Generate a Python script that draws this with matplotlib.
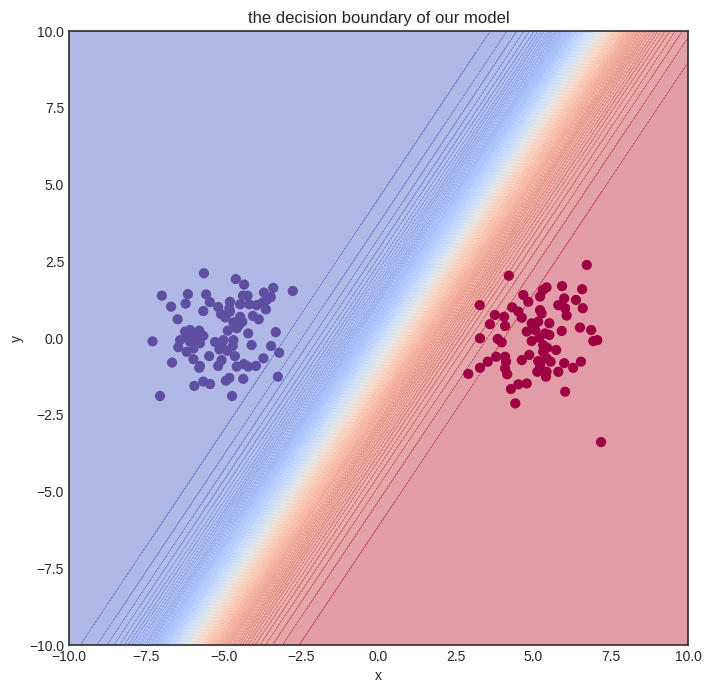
import numpy as np
import matplotlib
matplotlib.use("Agg")
import matplotlib.pyplot as plt

# left blob (class 1)
left_x = [-5.64, -4.61, -4.34, -7.00, -6.16, -5.57, -6.70, -6.23, -5.45, -3.40,
          -2.77, -3.70, -4.38, -4.23, -3.61, -3.48, -3.75, -4.80, -4.47, -4.18,
          -3.64, -5.18, -4.82, -5.66, -5.09, -4.95, -6.49, -4.47, -4.06, -3.87,
          -4.69, -4.40, -4.58, -4.87, -4.21, -3.32, -6.09, -5.79, -6.20, -5.93,
          -5.66, -7.30, -6.41, -6.09, -5.77, -5.28, -5.07, -4.69, -4.10, -3.47,
          -6.47, -6.20, -5.14, -4.89, -4.71, -3.21, -5.98, -5.47, -5.07, -4.64,
          -5.77, -6.67, -5.18, -4.58, -4.35, -4.21, -3.96, -3.72, -5.79, -4.82,
          -4.93, -4.37, -3.25, -5.66, -5.44, -5.95, -7.06, -4.73, -5.01, -4.80,
          -4.51, -5.98, -6.25, -3.94]
left_y = [2.11, 1.92, 1.74, 1.38, 1.43, 1.42, 1.02, 1.12, 1.17, 1.63,
          1.53, 1.48, 1.38, 1.38, 1.24, 1.33, 1.15, 1.18, 1.10, 1.10,
          0.93, 1.01, 0.97, 0.88, 0.78, 0.67, 0.61, 0.69, 0.72, 0.61,
          0.51, 0.53, 0.32, 0.24, 0.15, 0.19, 0.26, 0.24, 0.07, 0.04,
          0.07, -0.11, -0.07, -0.12, -0.17, -0.13, -0.20, -0.07, -0.23, -0.26,
          -0.30, -0.45, -0.37, -0.42, -0.26, -0.48, -0.69, -0.59, -0.72, -0.59,
          -0.91, -0.80, -0.91, -0.93, -0.85, -0.93, -0.91, -0.66, -0.97, -1.30,
          -1.39, -1.33, -1.26, -1.42, -1.50, -1.56, -1.89, -1.89, -0.07, 0.86,
          0.42, -0.34, 0.21, 1.07]

# right blob (class 0)
right_x = [6.73, 4.21, 3.27, 5.43, 5.31, 5.93, 6.58, 4.68, 4.84, 5.22,
           6.00, 6.38, 5.81, 6.03, 6.60, 4.32, 4.52, 3.76, 4.06, 4.63,
           5.22, 5.27, 6.08, 3.60, 4.09, 4.95, 5.16, 5.52, 4.79, 5.06,
           5.38, 5.92, 6.51, 6.87, 3.28, 3.85, 3.98, 4.95, 5.20, 5.52,
           6.94, 7.07, 5.32, 5.45, 5.74, 3.53, 3.80, 4.09, 4.12, 4.63,
           4.87, 5.16, 5.43, 5.56, 6.00, 6.29, 6.54, 2.90, 3.28, 4.09,
           4.16, 5.13, 5.43, 5.41, 5.81, 4.28, 4.52, 4.79, 6.03, 4.42,
           5.00, 5.32, 5.22, 7.19]
right_y = [2.38, 2.03, 1.07, 1.65, 1.56, 1.69, 1.59, 1.40, 1.18, 1.35,
           1.29, 1.24, 1.07, 0.97, 0.97, 1.00, 0.86, 0.75, 0.69, 0.66,
           0.91, 0.80, 0.73, 0.45, 0.39, 0.48, 0.53, 0.48, 0.21, 0.26,
           0.15, 0.23, 0.34, 0.26, -0.01, -0.03, -0.14, -0.10, 0.01, 0.10,
           -0.10, -0.07, -0.23, -0.32, -0.39, -0.77, -0.61, -0.61, -0.77, -0.72,
           -0.55, -0.75, -0.66, -0.77, -0.82, -0.97, -0.77, -1.17, -0.97, -0.99,
           -1.18, -1.10, -1.10, -1.26, -1.10, -1.66, -1.51, -1.48, -1.75, -2.13,
           0.42, -0.45, -0.88, -3.39]

# fitted linear model (logistic output)
w1, w2, b = 1.30, -0.861, -0.68

plt.style.use("seaborn-v0_8-white")
fig = plt.figure(figsize=(7.12, 6.94), dpi=100)
ax = fig.add_axes([0.0969, 0.0706, 0.8694, 0.8847])

xx, yy = np.meshgrid(np.linspace(-10, 10, 400), np.linspace(-10, 10, 400))
zz = 1 / (1 + np.exp(-(w1 * xx + w2 * yy + b)))
ax.contourf(xx, yy, zz, levels=np.linspace(0, 1, 101), cmap=plt.cm.coolwarm, alpha=0.4)

X = np.concatenate([left_x, right_x])
Y = np.concatenate([left_y, right_y])
labels = np.concatenate([np.ones(len(left_x)), np.zeros(len(right_x))])
ax.scatter(X, Y, c=labels, cmap=plt.cm.Spectral, s=40)

ax.set_xlim(-10, 10)
ax.set_ylim(-10, 10)
ax.set_xlabel("x")
ax.set_ylabel("y")
ax.set_title("the decision boundary of our model")
for s in ax.spines.values():
    s.set_color("#333333")
    s.set_linewidth(1.25)

fig.savefig("out.png", dpi=100)
